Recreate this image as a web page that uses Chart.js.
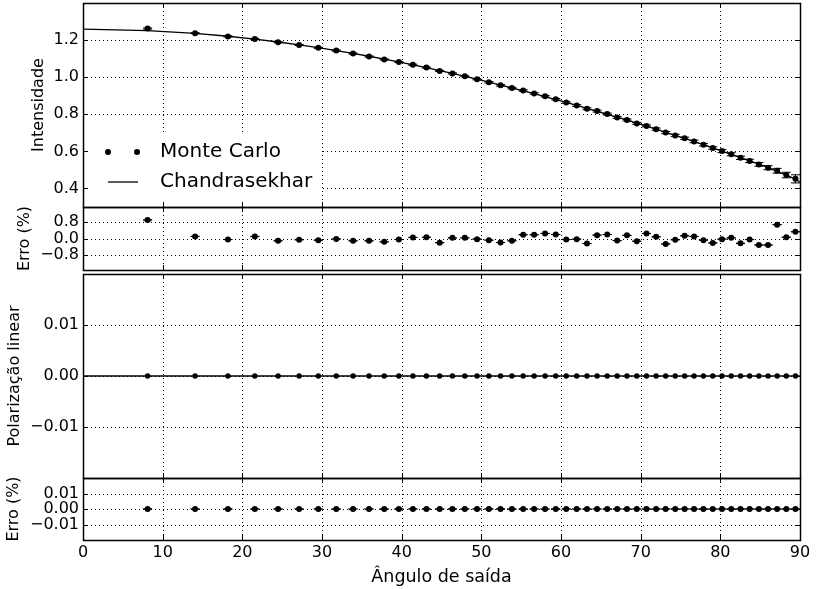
<!DOCTYPE html>
<html><head><meta charset="utf-8">
<script src="https://cdn.jsdelivr.net/npm/chart.js@4/dist/chart.umd.min.js"></script>
<style>
html,body{margin:0;padding:0;background:#fff;}
#wrap{position:relative;width:819px;height:589px;overflow:hidden;background:#fff}
canvas{position:absolute;left:0}
</style></head><body>
<div id="wrap">
<canvas id="c1" width="819" height="210" style="top:0px"></canvas>
<canvas id="c2" width="819" height="70" style="top:204px"></canvas>
<canvas id="c3" width="819" height="210" style="top:271px"></canvas>
<canvas id="c4" width="819" height="119" style="top:470px"></canvas>
</div>
<script>
// ---------- data ----------
const angles = [8.11,14.07,18.19,21.57,24.49,27.13,29.54,31.79,33.90,35.90,
  37.81,39.65,41.41,43.11,44.77,46.37,47.93,49.46,50.95,52.41,
  53.84,55.25,56.63,58.00,59.34,60.66,61.97,63.26,64.53,65.80,
  67.05,68.28,69.51,70.73,71.94,73.14,74.34,75.52,76.70,77.88,
  79.05,80.21,81.37,82.53,83.68,84.84,85.99,87.13,88.28,89.43];
const monteCarlo = [1.2624,1.2372,1.2200,1.2064,1.1885,1.1737,1.1582,1.1435,1.1271,1.1117,
  1.0956,1.0815,1.0670,1.0517,1.0335,1.0204,1.0048,0.9887,0.9726,0.9560,
  0.9412,0.9282,0.9124,0.8972,0.8811,0.8632,0.8474,0.8298,0.8172,0.8015,
  0.7832,0.7690,0.7507,0.7373,0.7199,0.7011,0.6858,0.6705,0.6537,0.6358,
  0.6179,0.6014,0.5843,0.5652,0.5486,0.5298,0.5119,0.4954,0.4723,0.4517];
const monteCarloErr = [0.003,0.003,0.003,0.003,0.003,0.003,0.003,0.003,0.003,0.003,
  0.003,0.003,0.003,0.003,0.003,0.003,0.003,0.003,0.004,0.004,
  0.004,0.004,0.004,0.004,0.004,0.004,0.005,0.005,0.005,0.005,
  0.005,0.005,0.005,0.005,0.006,0.006,0.006,0.006,0.007,0.007,
  0.007,0.008,0.008,0.009,0.009,0.010,0.011,0.013,0.015,0.022];
const chandraAngles = [0,8.11,14.07,18.19,21.57,24.49,27.13,29.54,31.79,33.90,35.90,
  37.81,39.65,41.41,43.11,44.77,46.37,47.93,49.46,50.95,52.41,
  53.84,55.25,56.63,58.00,59.34,60.66,61.97,63.26,64.53,65.80,
  67.05,68.28,69.51,70.73,71.94,73.14,74.34,75.52,76.70,77.88,
  79.05,80.21,81.37,82.53,83.68,84.84,85.99,87.13,88.28,89.43,90];
const chandrasekhar = [1.2591,1.2514,1.2360,1.2206,1.2052,1.1898,1.1744,1.1591,1.1437,1.1283,1.1129,
  1.0974,1.0820,1.0665,1.0511,1.0356,1.0201,1.0045,0.9890,0.9734,0.9578,
  0.9422,0.9265,0.9108,0.8951,0.8794,0.8636,0.8477,0.8318,0.8159,0.8000,
  0.7840,0.7678,0.7517,0.7355,0.7193,0.7029,0.6862,0.6696,0.6530,0.6363,
  0.6192,0.6016,0.5841,0.5665,0.5489,0.5314,0.5135,0.4922,0.4720,0.4503,0.4330];
const erroIntensidade = [0.88,0.10,-0.05,0.10,-0.11,-0.06,-0.08,-0.02,-0.11,-0.11,
  -0.16,-0.05,0.05,0.06,-0.20,0.03,0.03,-0.03,-0.08,-0.19,
  -0.11,0.18,0.18,0.24,0.19,-0.05,-0.03,-0.24,0.16,0.19,
  -0.10,0.15,-0.13,0.24,0.08,-0.26,-0.06,0.13,0.10,-0.08,
  -0.21,-0.03,0.03,-0.23,-0.05,-0.31,-0.31,0.66,0.06,0.32];
const erroIntensidadeErr = [0,0,0,0,0,0,0,0,0,0,0,0,0,0,0,0,0,0,0,0,0,0,0,0,0,
  0,0,0,0,0,0,0,0,0,0,0,0,0,0,0,0,0,0,0,0,0,0,0,0,0];
const polarMonteCarlo = [0,0,0,0,0,0,0,0,0,0,0,0,0,0,0,0,0,0,0,0,0,0,0,0,0,
  0,0,0,0,0,0,0,0,0,0,0,0,0,0,0,0,0,0,0,0,0,0,0,0,0];
const polarChandraAngles = [0,90];
const polarChandra = [0,0];
const erroPolar = [0,0,0,0,0,0,0,0,0,0,0,0,0,0,0,0,0,0,0,0,0,0,0,0,0,
  0,0,0,0,0,0,0,0,0,0,0,0,0,0,0,0,0,0,0,0,0,0,0,0,0];
const erroPolarErr = [0,0,0,0,0,0,0,0,0,0,0,0,0,0,0,0,0,0,0,0,0,0,0,0,0,
  0,0,0,0,0,0,0,0,0,0,0,0,0,0,0,0,0,0,0,0,0,0,0,0,0];

const xTicks = [0,10,20,30,40,50,60,70,80,90];
const xTickLabels = ['0','10','20','30','40','50','60','70','80','90'];
const intTicks = [0.4,0.6,0.8,1.0,1.2];
const intTickLabels = ['0.4','0.6','0.8','1.0','1.2'];
const erroTicks = [-0.8,0,0.8];
const erroTickLabels = ['\u22120.8','0.0','0.8'];
const polTicks = [-0.01,0,0.01];
const polTickLabels = ['\u22120.01','0.00','0.01'];
const erroPolTicks = [-0.01,0,0.01];
const erroPolTickLabels = ['\u22120.01','0.00','0.01'];

// ---------- helpers ----------
const FONT = "'DejaVu Sans', sans-serif";
const pts = (xs, ys) => xs.map((x, i) => ({x: x, y: ys[i]}));

const framePlugin = {
  id: 'frame',
  beforeDatasetsDraw(chart, args, opts) {
    const {ctx, chartArea: a, scales: {x, y}} = chart;
    ctx.save();
    ctx.strokeStyle = '#000';
    ctx.lineWidth = 1;
    ctx.setLineDash([1, 3]);
    x.ticks.forEach(t => {
      if (t.value <= x.min || t.value >= x.max) return;
      const px = Math.round(x.getPixelForValue(t.value)) + 0.5;
      ctx.beginPath(); ctx.moveTo(px, a.top); ctx.lineTo(px, a.bottom); ctx.stroke();
    });
    y.ticks.forEach(t => {
      if (t.value <= y.min || t.value >= y.max) return;
      const py = Math.round(y.getPixelForValue(t.value)) + 0.5;
      ctx.beginPath(); ctx.moveTo(a.left, py); ctx.lineTo(a.right, py); ctx.stroke();
    });
    ctx.setLineDash([]);
    if (opts.legend) {
      ctx.fillStyle = '#fff';
      ctx.fillRect(a.left + 1, a.top + 131, 238, 67);
    }
    ctx.restore();
  },
  afterDatasetsDraw(chart, args, opts) {
    const {ctx, chartArea: a, scales: {x, y}} = chart;
    ctx.save();
    ctx.strokeStyle = '#000';
    ctx.lineWidth = 1;
    // error bars
    chart.data.datasets.forEach(ds => {
      if (!ds.yErr) return;
      ds.data.forEach((p, i) => {
        const e = ds.yErr[i];
        const px = x.getPixelForValue(p.x);
        const p1 = y.getPixelForValue(p.y + e);
        const p2 = y.getPixelForValue(p.y - e);
        ctx.beginPath();
        ctx.moveTo(px, p1); ctx.lineTo(px, p2);
        ctx.moveTo(px - 4.5, p1); ctx.lineTo(px + 4.5, p1);
        ctx.moveTo(px - 4.5, p2); ctx.lineTo(px + 4.5, p2);
        ctx.stroke();
      });
    });
    // ticks (inward)
    const L = 5;
    x.ticks.forEach(t => {
      const px = Math.round(x.getPixelForValue(t.value)) + 0.5;
      ctx.beginPath();
      ctx.moveTo(px, a.bottom); ctx.lineTo(px, a.bottom - L);
      ctx.moveTo(px, a.top); ctx.lineTo(px, a.top + L);
      ctx.stroke();
    });
    y.ticks.forEach(t => {
      const py = Math.round(y.getPixelForValue(t.value)) + 0.5;
      ctx.beginPath();
      ctx.moveTo(a.left, py); ctx.lineTo(a.left + L, py);
      ctx.moveTo(a.right, py); ctx.lineTo(a.right - L, py);
      ctx.stroke();
    });
    // frame
    ctx.lineWidth = 1.5;
    ctx.strokeRect(Math.round(a.left) + 0.5, Math.round(a.top) + 0.5,
      Math.round(a.right - a.left), Math.round(a.bottom - a.top));
    // legend
    if (opts.legend) {
      const l = a.left, t = a.top;
      ctx.fillStyle = '#000';
      [25, 54].forEach(dx => {
        ctx.beginPath(); ctx.arc(l + dx, t + 149, 3, 0, Math.PI * 2); ctx.fill();
      });
      ctx.lineWidth = 1.3;
      ctx.beginPath(); ctx.moveTo(l + 25, t + 179); ctx.lineTo(l + 55, t + 179); ctx.stroke();
      ctx.font = '20px ' + FONT;
      ctx.textBaseline = 'middle';
      ctx.textAlign = 'left';
      ctx.fillText('Monte Carlo', l + 77, t + 149);
      ctx.fillText('Chandrasekhar', l + 77, t + 179);
    }
    ctx.restore();
  }
};

function yScale(min, max, ticks, labels, title, titlePad) {
  return {
    type: 'linear', position: 'left', min: min, max: max,
    afterBuildTicks: s => { s.ticks = ticks.map(v => ({value: v})); },
    afterFit: s => { s.width = 83; s.paddingTop = 0; s.paddingBottom = 0; },
    ticks: {
      font: {family: FONT, size: 16}, color: '#000', padding: 4,
      callback: v => labels[ticks.indexOf(v)]
    },
    grid: {display: false, drawTicks: false, tickLength: 0}, border: {display: false},
    title: {display: true, text: title, color: '#000',
      font: {family: FONT, size: 16}, padding: {top: titlePad, bottom: 0}}
  };
}
function xHidden() {
  return {
    type: 'linear', position: 'bottom', min: 0, max: 90,
    afterBuildTicks: s => { s.ticks = xTicks.map(v => ({value: v})); },
    afterFit: s => { s.height = 0; s.paddingLeft = 0; s.paddingRight = 0; },
    ticks: {display: false}, grid: {display: false, drawTicks: false, tickLength: 0}, border: {display: false}
  };
}
function xShown() {
  return {
    type: 'linear', position: 'bottom', min: 0, max: 90,
    afterBuildTicks: s => { s.ticks = xTicks.map(v => ({value: v})); },
    afterFit: s => { s.height = 48; s.paddingLeft = 0; s.paddingRight = 0; },
    ticks: {font: {family: FONT, size: 16}, color: '#000', padding: 3, maxRotation: 0,
      callback: v => xTickLabels[xTicks.indexOf(v)]},
    grid: {display: false, drawTicks: false, tickLength: 0}, border: {display: false},
    title: {display: true, text: 'Ângulo de saída', color: '#000',
      font: {family: FONT, size: 17.5}, padding: {top: 0, bottom: 0}}
  };
}
function makeChart(id, datasets, xs, ys, pad, frameOpts) {
  return new Chart(document.getElementById(id), {
    type: 'scatter',
    data: {datasets: datasets},
    options: {
      responsive: false, animation: false, devicePixelRatio: 1,
      layout: {padding: pad},
      scales: {x: xs, y: ys},
      plugins: {legend: {display: false}, tooltip: {enabled: false}, frame: frameOpts}
    },
    plugins: [framePlugin]
  });
}
const dot = r => ({showLine: false, pointRadius: r, pointHoverRadius: r,
  pointBackgroundColor: '#000', pointBorderWidth: 0, borderColor: '#000'});
const lineDs = {showLine: true, pointRadius: 0, borderColor: '#000', borderWidth: 1.3, fill: false};

// Panel 1: Intensidade
makeChart('c1', [
  Object.assign({label: 'Chandrasekhar', data: pts(chandraAngles, chandrasekhar)}, lineDs),
  Object.assign({label: 'Monte Carlo', data: pts(angles, monteCarlo), yErr: monteCarloErr}, dot(3))
], xHidden(), yScale(0.3, 1.4, intTicks, intTickLabels, 'Intensidade', 29),
  {left: 0, right: 19, top: 3, bottom: 3}, {legend: true});

// Panel 2: Erro (%)
makeChart('c2', [
  Object.assign({label: 'Erro', data: pts(angles, erroIntensidade), yErr: erroIntensidadeErr}, dot(3))
], xHidden(), yScale(-1.5, 1.5, erroTicks, erroTickLabels, 'Erro (%)', 15),
  {left: 0, right: 19, top: 3, bottom: 4}, {legend: false});

// Panel 3: Polarização linear
makeChart('c3', [
  Object.assign({label: 'Chandrasekhar', data: pts(polarChandraAngles, polarChandra)}, lineDs),
  Object.assign({label: 'Monte Carlo', data: pts(angles, polarMonteCarlo)}, dot(2.7))
], xHidden(), yScale(-0.02, 0.02, polTicks, polTickLabels, 'Polarização linear', 5),
  {left: 0, right: 19, top: 3, bottom: 3}, {legend: false});

// Panel 4: Erro (%) polarização
makeChart('c4', [
  Object.assign({label: 'Erro', data: pts(angles, erroPolar), yErr: erroPolarErr}, dot(3))
], xShown(), yScale(-0.02, 0.02, erroPolTicks, erroPolTickLabels, 'Erro (%)', 4),
  {left: 0, right: 19, top: 8, bottom: 1}, {legend: false});
</script>
</body></html>
